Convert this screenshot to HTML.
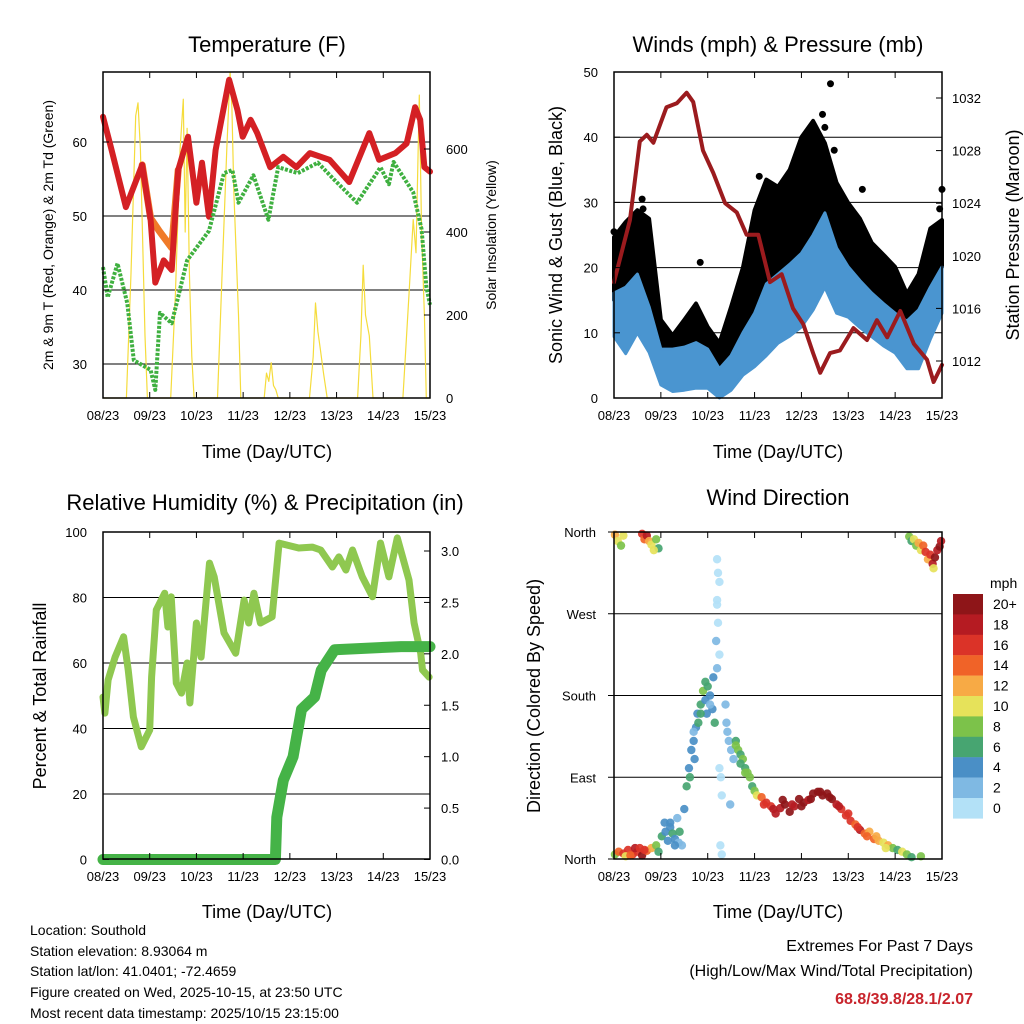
<!DOCTYPE html>
<html><head><meta charset="utf-8"><style>
body{margin:0;background:#fff;}
svg{display:block;font-family:"Liberation Sans",sans-serif;}
</style></head><body>
<svg id="s" width="1024" height="1024" viewBox="0 0 1024 1024">
<rect width="1024" height="1024" fill="#fff"/>
<g id="g"></g>
<text x="267" y="52" font-size="22" text-anchor="middle">Temperature (F)</text>
<text x="778" y="52" font-size="22" text-anchor="middle">Winds (mph) &amp; Pressure (mb)</text>
<text x="265" y="510" font-size="22" text-anchor="middle">Relative Humidity (%) &amp; Precipitation (in)</text>
<text x="778" y="505" font-size="22" text-anchor="middle">Wind Direction</text>
<text x="267" y="458" font-size="18" text-anchor="middle">Time (Day/UTC)</text>
<text x="778" y="458" font-size="18" text-anchor="middle">Time (Day/UTC)</text>
<text x="267" y="918" font-size="18" text-anchor="middle">Time (Day/UTC)</text>
<text x="778" y="918" font-size="18" text-anchor="middle">Time (Day/UTC)</text>
<text transform="translate(53,235) rotate(-90)" font-size="14" text-anchor="middle">2m &amp; 9m T (Red, Orange) &amp; 2m Td (Green)</text>
<text transform="translate(496,235) rotate(-90)" font-size="14" text-anchor="middle">Solar Insolation (Yellow)</text>
<text transform="translate(562,235) rotate(-90)" font-size="18" text-anchor="middle">Sonic Wind &amp; Gust (Blue, Black)</text>
<text transform="translate(1019,235) rotate(-90)" font-size="18" text-anchor="middle">Station Pressure (Maroon)</text>
<text transform="translate(46,696) rotate(-90)" font-size="18" text-anchor="middle">Percent &amp; Total Rainfall</text>
<text transform="translate(540,696) rotate(-90)" font-size="18" text-anchor="middle">Direction (Colored By Speed)</text>
<g font-size="14">
<text x="30" y="935">Location: Southold</text>
<text x="30" y="956">Station elevation: 8.93064 m</text>
<text x="30" y="976">Station lat/lon: 41.0401; -72.4659</text>
<text x="30" y="997">Figure created on Wed, 2025-10-15, at 23:50 UTC</text>
<text x="30" y="1018">Most recent data timestamp: 2025/10/15 23:15:00</text>
</g>
<g font-size="16" text-anchor="end">
<text x="973" y="951">Extremes For Past 7 Days</text>
<text x="973" y="976">(High/Low/Max Wind/Total Precipitation)</text>
<text x="973" y="1004" fill="#c8242c" font-weight="bold">68.8/39.8/28.1/2.07</text>
</g>
<text x="990" y="588" font-size="14">mph</text>
</svg>
<script>
// ---- data ----
const xTickLabels=["08/23","09/23","10/23","11/23","12/23","13/23","14/23","15/23"];
const tempT=[0,0.17,0.49,0.84,1.02,1.12,1.3,1.47,1.61,1.82,2.0,2.12,2.27,2.41,2.7,2.88,2.99,3.16,3.3,3.58,3.86,4.14,4.43,4.85,5.27,5.7,5.91,6.26,6.5,6.68,6.79,6.88,7.0];
const tempRed=[63.4,59.3,51.2,56.9,49.5,41,44,42.7,56.2,60.7,51.8,57.2,49.9,58.9,68.4,64.3,60.7,63,61.2,56.6,58,56.6,58.5,57.6,54.6,61.2,57.6,58.5,59.8,64.7,63,56.6,56];
const orangeT=[0.84,1.02,1.2,1.47,1.61];
const tempOrange=[56.9,49.7,48,45.7,56.2];
const dewT=[0,0.1,0.31,0.52,0.66,1.02,1.12,1.22,1.47,1.8,2.27,2.59,2.77,2.9,3.22,3.54,3.75,4.17,4.6,4.95,5.44,5.94,6.12,6.22,6.64,6.82,6.92,7.0];
const dewV=[43.1,39,43.6,38.2,30.5,29.2,26.5,36.9,35.5,44,48,55.8,56.2,51.8,55.5,49.5,56.6,55.8,57.2,54.9,51.8,56.6,54.3,57.3,53.2,48.2,40.5,38];
const solarT=[0,0.5,0.6,0.7,0.75,0.8,0.9,0.95,1.45,1.55,1.65,1.72,1.76,1.8,1.85,1.9,1.95,2.45,2.55,2.65,2.72,2.76,2.8,2.9,2.95,3.45,3.5,3.55,3.6,3.65,3.7,3.75,4.42,4.5,4.55,4.6,4.65,4.72,4.8,5.45,5.52,5.57,5.62,5.7,5.78,6.42,6.55,6.64,6.7,6.77,6.82,6.88,6.92,7.0];
const solarV=[0,0,300,680,711,600,150,0,0,250,600,720,400,650,300,100,0,0,300,600,785,700,500,200,0,0,60,40,85,30,20,0,0,100,229,160,120,60,0,0,150,320,200,150,0,0,250,430,350,730,400,200,0,0];
const presT=[0,0.34,0.55,0.7,0.84,1.12,1.34,1.55,1.69,1.9,2.12,2.37,2.62,2.83,3.08,3.33,3.58,3.82,4.04,4.25,4.4,4.61,4.82,5.11,5.4,5.61,5.83,6.11,6.4,6.68,6.82,7.0];
const presV=[1018,1022.7,1028.7,1029.2,1028.6,1031.3,1031.6,1032.4,1031.7,1028,1026.3,1024,1023.3,1021.6,1021.6,1018,1018.6,1016,1014.8,1012.6,1011.1,1012.6,1012.8,1014.5,1013.6,1015.1,1013.8,1015.8,1013.3,1012.1,1010.4,1011.7];
const envT=[0,0.25,0.5,0.75,1,1.25,1.5,1.75,2,2.25,2.5,2.75,3,3.25,3.5,3.75,4,4.25,4.5,4.75,5,5.25,5.5,5.75,6,6.25,6.5,6.75,7];
const gustHi=[24.7,27,28.8,27.5,12,9.6,12,14.5,10.9,8.4,14,20,28.8,33.5,32.4,35,40,42.5,39.1,33,29.9,27.5,23.8,22,20.1,16,19,26,27.3];
const gustLo=[15,16.5,17,13.5,7,6.3,5.8,5,4.3,1.5,4,8,10,13,16.1,18,20.1,24,26.2,21,18.6,16.8,15,13.5,12,10.5,11,15,20.1];
const windHi=[16.1,17,19,14,7.5,7.5,7.8,8.5,7.5,4.5,6.5,10,13,17.5,19,20.5,22.2,25,28.4,23,20.1,18,16.1,14.5,13,11.8,13.5,17,20.1];
const windLo=[9.4,6.8,10,7,2,1,1.2,1.5,1.5,0,1.2,3.5,4.8,6.5,8.4,9.5,10.9,13.5,17,13,12.4,10.8,9.4,8,6.9,4.5,4.5,9,13];
const gustOutT=[1.84,4.62,0,7.0,4.45,0.6,0.62,3.1,4.3,4.5,4.7,5.3,6.95];
const gustOutV=[20.8,48.2,25.5,32,43.5,30.5,29,34,39,41.5,38,32,29];
const rhT=[0,0.04,0.11,0.26,0.44,0.54,0.65,0.82,1.0,1.04,1.14,1.32,1.39,1.46,1.57,1.68,1.8,1.86,2.0,2.1,2.28,2.38,2.59,2.84,3.02,3.12,3.23,3.37,3.62,3.77,4.19,4.48,4.66,4.91,5.05,5.2,5.34,5.55,5.77,5.94,6.12,6.3,6.55,6.66,6.8,6.84,6.98];
const rhV=[49.6,44.7,54.8,61.8,68,57.9,43.5,34.4,39.5,55.7,76.2,81.3,71,80.2,53.9,50.8,60,47.8,72.2,61.8,90.5,86.3,69.2,63,79.2,72.2,81.3,72.2,74.1,96.6,95.1,95.4,94.5,89.3,92.4,88.4,94.5,86.3,80.2,96.6,86.3,98.2,85.3,72.2,63,57.9,55.7];
const rainT=[0,3.69,3.72,3.86,4.07,4.25,4.53,4.67,4.96,6.38,7.0];
const rainV=[0,0,0.41,0.77,1.0,1.46,1.58,1.84,2.04,2.07,2.07];
const dirT=[0.02,0.08,0.15,0.2,0.6,0.65,0.7,0.75,0.8,0.9,0.95,0.85,0.02,0.1,0.2,0.3,0.4,0.5,0.6,0.7,0.8,0.9,0.95,0.25,0.45,0.65,1.02,1.08,1.1,1.15,1.2,1.25,1.3,1.35,1.4,1.45,1.5,1.38,1.55,1.6,1.62,1.65,1.7,1.72,1.75,1.78,1.8,1.85,1.9,1.95,2.0,2.05,2.1,2.12,2.15,1.98,2.2,2.22,2.25,2.2,2.22,2.18,2.25,2.2,2.25,2.28,2.3,2.27,2.3,2.2,2.38,2.4,2.42,2.45,2.5,2.55,2.48,2.6,2.65,2.7,2.75,2.8,2.85,2.9,2.95,3.0,3.05,3.15,3.25,3.35,3.45,3.55,3.65,3.75,3.85,3.95,4.05,4.15,4.25,4.35,4.45,4.55,4.65,4.75,4.85,4.95,5.05,5.15,5.25,5.35,5.45,5.55,5.65,5.75,5.85,5.95,6.05,6.15,6.25,6.35,6.55,6.3,6.35,6.4,6.45,6.5,6.55,6.6,6.65,6.7,6.75,6.8,6.85,6.9,6.95,6.98,6.82,3.2,3.4,3.6,3.8,4.0,4.2,4.4,4.6,4.8,5.0,5.2,5.4,5.6,5.8,1.85,1.95,2.05,1.7,2.6,2.7,2.8,0.35,0.55,1.2,1.3];
const dirV=[357,350,345,356,358,352,356,350,346,352,342,340,5,8,6,10,5,8,4,9,12,15,8,3,12,10,25,40,30,20,35,28,22,45,30,15,55,18,80,100,90,120,130,110,145,160,150,170,185,175,190,180,165,200,150,160,330,315,305,285,260,240,225,210,100,90,70,15,5,280,170,150,140,130,120,110,60,130,120,115,110,100,95,90,80,75,70,68,62,58,50,56,60,52,58,66,62,65,72,74,70,72,66,60,55,48,42,38,32,28,30,22,20,18,15,12,10,8,5,2,3,355,350,352,345,348,340,345,338,330,335,325,332,340,344,350,320,60,55,65,60,58,66,74,68,58,50,35,25,25,12,160,195,170,140,125,105,95,4,12,40,15];
const dirSpd=[12,10,9,11,16,14,18,13,10,8,7,10,8,14,16,17,16,17,20,14,12,9,7,10,18,16,6,4,4,5,4,6,4,3,6,3,4,3,6,4,6,4,4,4,4,4,6,6,8,4,6,5,4,4,6,4,1,0,1,0,1,2,1,2,0,1,0,1,0,0,2,3,2,3,3,2,2,7,8,6,8,7,9,8,6,8,10,14,16,17,18,18,20,20,19,20,20,18,20,20,20,20,20,18,17,16,16,15,18,14,13,14,12,11,12,8,6,10,8,7,8,8,6,10,9,12,11,14,16,12,17,18,20,19,20,18,10,16,18,20,19,20,20,20,20,18,17,16,14,13,11,7,6,3,3,8,7,9,15,17,4,5];
const cbLabels=["20+","18","16","14","12","10","8","6","4","2","0"];
const cbColors=["#8e1518","#b51b22","#db3328","#f06328","#f7aa45","#e6e25a","#7cc24a","#47a571","#4a8fc6","#7fb9e3","#b3e1f7"];
const tempTicks=[30,40,50,60], solarTicks=[0,200,400,600], windTicks=[0,10,20,30,40,50];
const presTicks=[1012,1016,1020,1024,1028,1032], rhTicks=[0,20,40,60,80,100], rainTicks=[0,0.5,1,1.5,2,2.5,3];
const dirTicks=[0,90,180,270,360], dirLabels=["North","East","South","West","North"];
// ---- scales ----
const NS="http://www.w3.org/2000/svg", G=document.getElementById('g');
function el(tag,attrs,parent){const e=document.createElementNS(NS,tag);for(const k in attrs)e.setAttribute(k,attrs[k]);(parent||G).appendChild(e);return e;}
const XL={x0:103,x1:430}, XR={x0:614,x1:942};
const xs=(P)=>t=>P.x0+t*(P.x1-P.x0)/7;
const lin=(d0,d1,r0,r1)=>v=>r0+(v-d0)*(r1-r0)/(d1-d0);
const xL=xs(XL), xR=xs(XR);
const yTemp=lin(30,60,364,142), ySol=lin(0,600,398,149);
const yWind=lin(0,50,398,72), yPres=lin(1012,1032,361,98);
const yRH=lin(0,100,859.5,532), yRain=lin(0,3,859.5,551);
const yDir=lin(0,360,859,532);
function path(T,V,xf,yf){return T.map((t,i)=>(i?'L':'M')+xf(t).toFixed(1)+','+yf(V[i]).toFixed(1)).join('');}
function band(T,Hi,Lo,xf,yf){let d=path(T,Hi,xf,yf);for(let i=T.length-1;i>=0;i--)d+='L'+xf(T[i]).toFixed(1)+','+yf(Lo[i]).toFixed(1);return d+'Z';}
function frame(P,top,bot,name){
  el('rect',{x:P.x0,y:top,width:P.x1-P.x0,height:bot-top,fill:'none',stroke:'#000','stroke-width':1.5});
  for(let i=0;i<8;i++){const x=xs(P)(i);
    el('line',{x1:x,x2:x,y1:bot,y2:bot-6,stroke:'#000'});el('line',{x1:x,x2:x,y1:top,y2:top+6,stroke:'#000'});
    const t=el('text',{x:x,y:bot+22,'font-size':13,'text-anchor':'middle'});t.textContent=xTickLabels[i];
    
    }
}
function grid(P,vals,yf){vals.forEach(v=>{const l=el('line',{x1:P.x0,x2:P.x1,y1:yf(v),y2:yf(v),stroke:'#000','stroke-width':1});
  
  });}
function ticks(vals,yf,x,anchor,fmt,name,tickx,dir){vals.forEach(v=>{const y=yf(v);
  el('line',{x1:tickx,x2:tickx+dir*6,y1:y,y2:y,stroke:'#000'});
  const t=el('text',{x:x,y:y+5,'font-size':13,'text-anchor':anchor});t.textContent=fmt(v);
  
  });}
function line(d,color,w,name,extra){const p=el('path',Object.assign({d:d,fill:'none',stroke:color,'stroke-width':w,'stroke-linejoin':'round','stroke-linecap':'round'},extra||{}));
  
  return p;}
// ---- panel 1 ----
grid(XL,[30,40,50,60],yTemp);
line(path(solarT,solarV,xL,ySol),'#f5dc3c',1.2,'solar-insolation-line');
line(path(orangeT,tempOrange,xL,yTemp),'#f07a28',7,'temp-9m-line');
line(path(tempT,tempRed,xL,yTemp),'#d42024',6,'temp-2m-line');
line(path(dewT,dewV,xL,yTemp),'#3fb040',4,'dewpoint-line',{'stroke-dasharray':'3 1.5','stroke-linecap':'butt'});
frame(XL,72,398,'temp');
ticks(tempTicks,yTemp,87,'end',v=>v,'temp-y-tick-label',XL.x0,1);
ticks(solarTicks,ySol,446,'start',v=>v,'solar-y-tick-label',XL.x1,-1);
// ---- panel 2 ----
grid(XR,[10,20,30,40],yWind);
const gb=el('path',{d:band(envT,gustHi,gustLo,xR,yWind),fill:'#000',stroke:'#000','stroke-width':4,'stroke-linejoin':'round'});


gustOutT.forEach((t,i)=>{const c=el('circle',{cx:xR(t),cy:yWind(gustOutV[i]),r:3.5,fill:'#000'});
  
  });
const wb=el('path',{d:band(envT,windHi,windLo,xR,yWind),fill:'#4a95d0',stroke:'#4a95d0','stroke-width':3,'stroke-linejoin':'round'});


line(path(presT,presV,xR,yPres),'#9b1b1e',4,'pressure-line');
frame(XR,72,398,'winds');
ticks(windTicks,yWind,598,'end',v=>v,'wind-y-tick-label',XR.x0,1);
ticks(presTicks,yPres,952,'start',v=>v,'pressure-y-tick-label',XR.x1,-1);
// ---- panel 3 ----
grid(XL,[20,40,60,80],yRH);
line(path(rhT,rhV,xL,yRH),'#8fc850',7,'relative-humidity-line');
line(path(rainT,rainV,xL,yRain),'#45b347',11,'precipitation-line');
frame(XL,532,859,'rh');
ticks(rhTicks,yRH,87,'end',v=>v,'rh-y-tick-label',XL.x0,1);
ticks(rainTicks,yRain,441,'start',v=>v.toFixed(1),'rain-y-tick-label',XL.x1,-1);
// ---- panel 4 ----
grid(XR,[90,180,270],yDir);
dirT.forEach((t,i)=>{const idx=Math.min(10,Math.floor(dirSpd[i]/2));
  const c=el('circle',{cx:xR(t),cy:yDir(dirV[i]),r:4.2,fill:cbColors[10-idx],opacity:0.92});
  
  });
frame(XR,532,859,'dir');
dirTicks.forEach((v,i)=>{const y=yDir(v);el('line',{x1:XR.x0,x2:XR.x0-6,y1:y,y2:y,stroke:'#000'});
  const t=el('text',{x:596,y:y+5,'font-size':13,'text-anchor':'end'});t.textContent=dirLabels[i];
  
  });
cbColors.forEach((c,i)=>{const y=594+i*20.4;
  const r=el('rect',{x:953,y:y,width:30,height:20.6,fill:c});
  
  
  const t=el('text',{x:993,y:y+15,'font-size':14});t.textContent=cbLabels[i];
  
  });
</script>
</body></html>
